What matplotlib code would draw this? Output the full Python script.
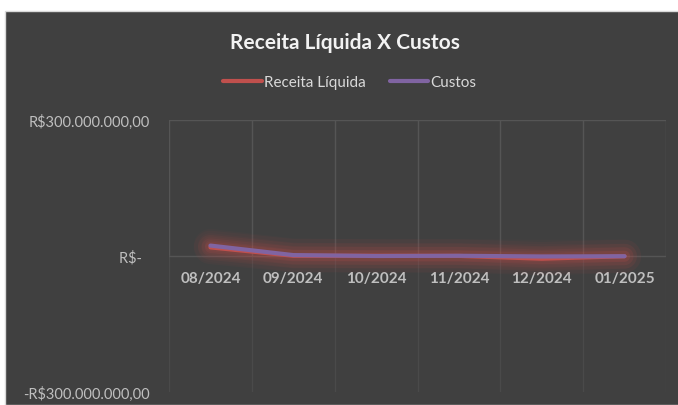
import matplotlib
matplotlib.use("Agg")
import matplotlib.pyplot as plt
from matplotlib.patches import Rectangle
import numpy as np

MONTHS = ["08/2024", "09/2024", "10/2024", "11/2024", "12/2024", "01/2025"]
RECEITA = [19e6, 0.5e6, 0.5e6, 0.2e6, -6e6, -0.5e6]
CUSTOS = [23e6, 2e6, 0.0, 0.5e6, -1e6, -0.5e6]
YTICKS = [-300e6, 0, 300e6]
YLABELS = ["-R$300.000.000,00", "R$-  ", "R$300.000.000,00"]

BG = "#404040"
RED = "#C0504D"
PURPLE = "#8064A2"
TXT = "#BFBFBF"

plt.rcParams["font.family"] = ["Lato", "DejaVu Sans"]

fig = plt.figure(figsize=(6.78, 4.06), dpi=100)
fig.patch.set_facecolor("white")
# dark chart area (white strip left and top like the screenshot)
fig.patches.append(Rectangle((5 / 678, 0), 1, 1 - 12 / 406, transform=fig.transFigure,
                             facecolor=BG, edgecolor="#D9D9D9", lw=1, zorder=-5))

ax = fig.add_axes([169 / 678, 1 - 393 / 406, (666 - 169) / 678, (393 - 121) / 406])
ax.set_facecolor("none")

x = np.arange(len(MONTHS)) + 0.5

# soft glow behind the lines
for w, a in [(24, 0.05), (18, 0.07), (13, 0.09), (8, 0.13)]:
    ax.plot(x, RECEITA, color=RED, lw=w, alpha=a, solid_capstyle="round", zorder=2)
    ax.plot(x, CUSTOS, color=RED, lw=w, alpha=a * 0.7, solid_capstyle="round", zorder=2)

ax.plot(x, RECEITA, color=RED, lw=3, solid_capstyle="round", zorder=3, label="Receita Líquida")
ax.plot(x, CUSTOS, color=PURPLE, lw=3, solid_capstyle="round", zorder=4, label="Custos")

ax.set_xlim(0, len(MONTHS))
ax.set_ylim(-300e6, 300e6)

# gridlines
for xv in range(len(MONTHS) + 1):
    ax.plot([xv, xv], [0, 300e6], color="#555555", lw=1, zorder=1)
    ax.plot([xv, xv], [-300e6, 0], color="#4A4A4A", lw=1, zorder=1)
ax.axhline(300e6, color="#555555", lw=1, zorder=1)
ax.axhline(0, color="#555555", lw=1, zorder=1)

for s in ax.spines.values():
    s.set_visible(False)
ax.spines["bottom"].set_position(("data", 0))

ax.set_xticks(x)
ax.set_xticklabels(MONTHS, color=TXT, fontsize=11, fontweight="bold")
ax.set_yticks(YTICKS)
ax.set_yticklabels(YLABELS, color=TXT, fontsize=10.5)
ax.tick_params(axis="x", length=0, pad=11)
ax.tick_params(axis="y", length=0, pad=14)

fig.text(345 / 678, 1 - 43 / 406, "Receita Líquida X Custos", ha="center", va="center",
         color="#F2F2F2", fontsize=15, fontweight="bold")

leg = fig.legend(loc="center", bbox_to_anchor=(350 / 678, 1 - 83 / 406), ncol=2, frameon=False,
                 fontsize=11, handlelength=2.5, handletextpad=0.15, columnspacing=1.6)
for t in leg.get_texts():
    t.set_color("#D9D9D9")

fig.savefig("out.png", dpi=100, facecolor=fig.get_facecolor())
